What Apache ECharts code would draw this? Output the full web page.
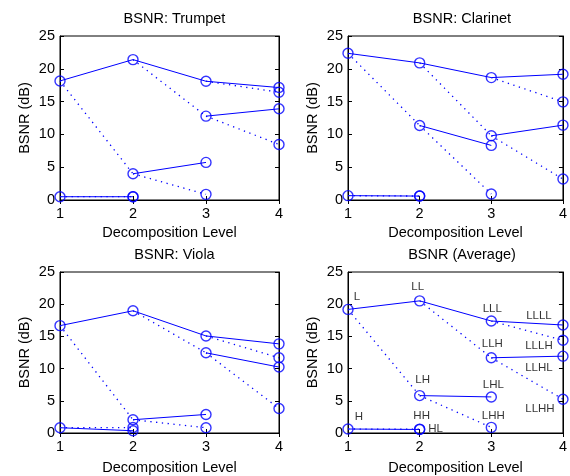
<!DOCTYPE html>
<html>
<head>
<meta charset="utf-8">
<script src="https://cdn.jsdelivr.net/npm/echarts@6/dist/echarts.min.js"></script>
<style>
    html, body { margin: 0; padding: 0; background: #fff; }
    #chart { width: 570px; height: 476px; }
</style>
</head>
<body>
<div id="chart"></div>
<script>
// wavelet packet nodes (level = name length, parent = name without last letter)
let nodeNames = ["L", "H", "LL", "LH", "HL", "HH", "LLL", "LLH", "LHL", "LHH", "LLLL", "LLLH", "LLHL", "LLHH"];
let panelTitles = ["BSNR: Trumpet", "BSNR: Clarinet", "BSNR: Viola", "BSNR (Average)"];
let levelTicks = [1, 2, 3, 4];
let bsnrTicks = [0, 5, 10, 15, 20, 25];

// BSNR (dB) per node, same order as nodeNames
let trumpet  = [18.15, 0.5, 21.4, 4.0, 0.5, 0.5, 18.1, 12.78, 5.73, 0.86, 17.14, 16.43, 13.9, 8.47];
let clarinet = [22.36, 0.66, 20.9, 11.36, 0.6, 0.6, 18.66, 9.79, 8.32, 0.91, 19.17, 14.96, 11.41, 3.19];
let viola    = [16.67, 0.82, 18.98, 2.06, 0.35, 0.85, 15.07, 12.45, 2.88, 0.82, 13.84, 11.68, 10.24, 3.8];
let average  = [19.19, 0.62, 20.52, 5.81, 0.55, 0.6, 17.39, 11.68, 5.6, 0.87, 16.77, 14.4, 11.93, 5.25];

let panels = [trumpet, clarinet, viola, average];

// where the node names sit relative to their circle (pixels), average panel only
let labelOffsets = {
    L: [9, -13], H: [11, -12], LL: [-2, -14], LH: [3, -16], HL: [16, -1], HH: [2, -13],
    LLL: [1, -12], LLH: [1, -14], LHL: [2, -12], LHH: [2, -12],
    LLLL: [-24, -9], LLLH: [-24, 6], LLHL: [-24, 12], LLHH: [-23, 10]
};

let grids = [
    {left: 60, top: 36, width: 219, height: 164},
    {left: 348, top: 36, width: 218, height: 164},
    {left: 60, top: 272, width: 219, height: 162},
    {left: 348, top: 272, width: 218, height: 162}
];

let font = "'Liberation Sans', Arial, sans-serif";
let blue = "#0000ff";

let xAxes = [], yAxes = [], series = [], titles = [];

grids.forEach(function (g, i) {
    grids[i].show = true;
    grids[i].borderColor = "#000";
    grids[i].borderWidth = 1;
    grids[i].backgroundColor = "#fff";

    titles.push({
        text: panelTitles[i],
        left: g.left + g.width / 2,
        top: g.top - 30,
        textAlign: "center",
        textStyle: {fontFamily: font, fontSize: 14.5, fontWeight: "normal", color: "#000"}
    });
});

function addAxes(i) {
    let axisLine = {show: true, lineStyle: {color: "#000", width: 1}};
    let tick = {show: true, inside: true, length: 4, lineStyle: {color: "#000"}};
    let lbl = {color: "#000", fontFamily: font, fontSize: 14.5};
    xAxes.push({
        type: "value", gridIndex: i, min: levelTicks[0], max: levelTicks[levelTicks.length - 1], interval: 1,
        name: "Decomposition Level", nameLocation: "middle", nameGap: i < 2 ? 25 : 27,
        nameTextStyle: {color: "#000", fontFamily: font, fontSize: 14.5},
        axisLine: axisLine, axisTick: tick, axisLabel: Object.assign({margin: 6}, lbl),
        splitLine: {show: false}
    });
    yAxes.push({
        type: "value", gridIndex: i, min: bsnrTicks[0], max: bsnrTicks[bsnrTicks.length - 1], interval: 5,
        name: "BSNR (dB)", nameLocation: "middle", nameGap: 28,
        nameTextStyle: {color: "#000", fontFamily: font, fontSize: 14.5},
        axisLine: axisLine, axisTick: tick, axisLabel: Object.assign({margin: 5}, lbl),
        splitLine: {show: false}
    });
}
function addMirrorAxes(i) {
    let axisLine = {show: true, lineStyle: {color: "#000", width: 1}};
    let tick = {show: true, inside: true, length: 4, lineStyle: {color: "#000"}};
    xAxes.push({
        type: "value", gridIndex: i, position: "top", min: 1, max: 4, interval: 1,
        axisLine: axisLine, axisTick: tick, axisLabel: {show: false}, splitLine: {show: false}
    });
    yAxes.push({
        type: "value", gridIndex: i, position: "right", min: 0, max: 25, interval: 5,
        axisLine: axisLine, axisTick: tick, axisLabel: {show: false}, splitLine: {show: false}
    });
}
for (let i = 0; i < 4; i++) addAxes(i);
for (let i = 0; i < 4; i++) addMirrorAxes(i);

panels.forEach(function (values, i) {
    let idx = {};
    nodeNames.forEach(function (n, k) { idx[n] = k; });

    // one segment per parent -> child, solid for low-pass child, dotted for high-pass
    nodeNames.forEach(function (n, k) {
        if (n.length < 2) return;
        let p = n.slice(0, -1);
        let lowPass = n.charAt(n.length - 1) === "L";
        series.push({
            type: "line",
            xAxisIndex: i, yAxisIndex: i,
            data: [[p.length, values[idx[p]]], [n.length, values[k]]],
            showSymbol: false, symbol: "none",
            silent: true, animation: false,
            lineStyle: {color: blue, width: lowPass ? 1 : 1.3, type: lowPass ? "solid" : [1.3, 4.5]},
            z: 2
        });
    });

    // the circles (and names in the average panel)
    series.push({
        type: "scatter",
        xAxisIndex: i, yAxisIndex: i,
        symbol: "circle", symbolSize: 10,
        animation: false,
        itemStyle: {color: "rgba(0,0,0,0)", borderColor: blue, borderWidth: 1.4},
        data: nodeNames.map(function (n, k) {
            let item = {name: n, value: [n.length, values[k]]};
            if (i === 3) {
                item.label = {
                    show: true, position: "inside", offset: labelOffsets[n],
                    formatter: "{b}", color: "#000", fontFamily: font, fontSize: 11.5
                };
            }
            return item;
        }),
        z: 3
    });
});

let myEcharts = echarts.init(document.getElementById("chart"), null, {renderer: "canvas"});
myEcharts.setOption({
    backgroundColor: "#fff",
    animation: false,
    title: titles,
    grid: grids,
    xAxis: xAxes,
    yAxis: yAxes,
    series: series
});
</script>
</body>
</html>
